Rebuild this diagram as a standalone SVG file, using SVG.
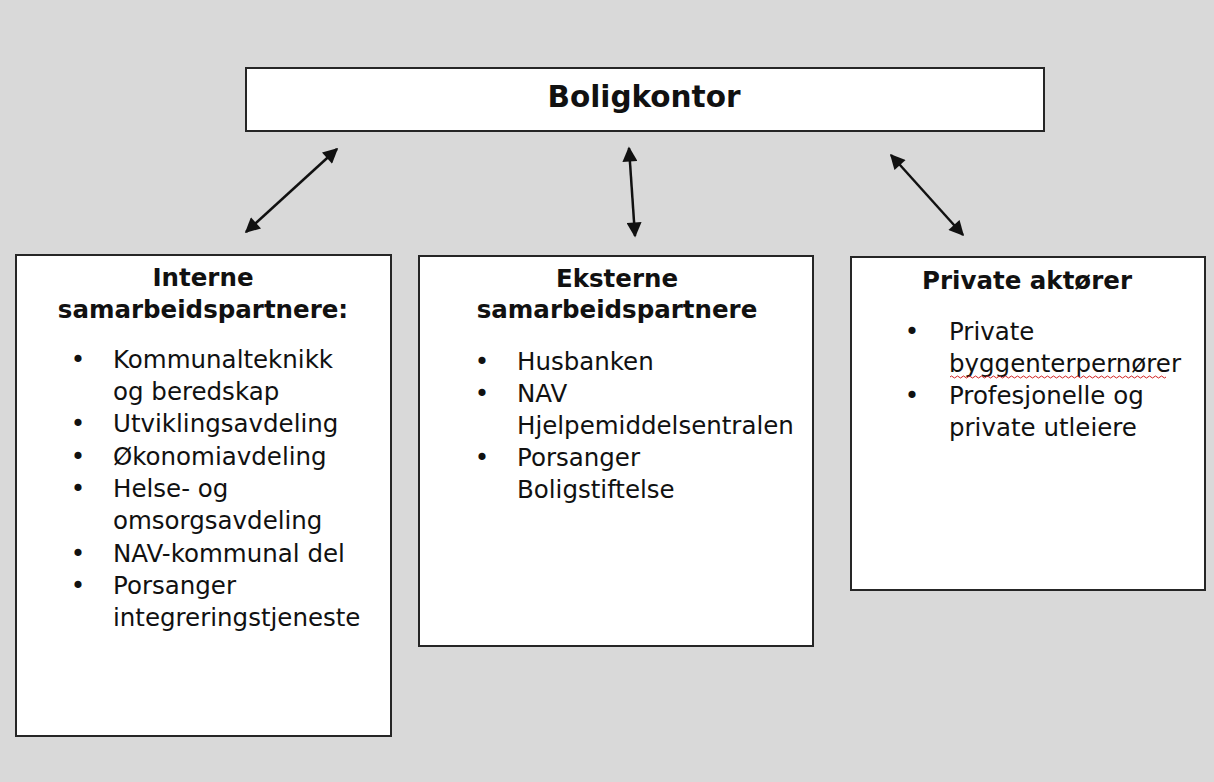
<svg xmlns="http://www.w3.org/2000/svg" width="1214" height="782" viewBox="0 0 1214 782">
<style>
.box{fill:#fff;stroke:#262626;stroke-width:2}
.t{font-family:"DejaVu Sans","Verdana",sans-serif;font-size:24.5px;fill:#111}
.b{font-weight:bold;text-anchor:middle}
.big{font-size:29.5px}
.bul{text-anchor:middle}
.arr{stroke:#111;stroke-width:2.5;fill:none;marker-start:url(#ah);marker-end:url(#ah)}
</style>
<defs>
<marker id="ah" viewBox="0 0 10 10" refX="9" refY="5" markerWidth="6.5" markerHeight="6" orient="auto-start-reverse" markerUnits="strokeWidth">
<path d="M0,0 L10,5 L0,10 Z" fill="#111"/>
</marker>
</defs>
<rect x="0" y="0" width="1214" height="782" fill="#d9d9d9"/>
<g id="connectors">
<line class="arr" x1="246" y1="232" x2="337" y2="149"/>
<line class="arr" x1="629" y1="148" x2="635" y2="236"/>
<line class="arr" x1="891" y1="155" x2="963" y2="235"/>
</g>
<g id="boligkontor">
<rect class="box" x="246" y="68" width="798" height="63"/>
<text class="t b big" x="644" y="107">Boligkontor</text>
</g>
<g id="interne">
<rect class="box" x="16" y="255" width="375" height="481"/>
<text class="t b" x="203" y="286">Interne</text>
<text class="t b" x="203" y="318">samarbeidspartnere:</text>
<text class="t bul" x="78" y="368">•</text>
<text class="t" x="113" y="368">Kommunalteknikk</text>
<text class="t" x="113" y="400">og beredskap</text>
<text class="t bul" x="78" y="432">•</text>
<text class="t" x="113" y="432">Utviklingsavdeling</text>
<text class="t bul" x="78" y="465">•</text>
<text class="t" x="113" y="465">Økonomiavdeling</text>
<text class="t bul" x="78" y="497">•</text>
<text class="t" x="113" y="497">Helse- og</text>
<text class="t" x="113" y="529">omsorgsavdeling</text>
<text class="t bul" x="78" y="562">•</text>
<text class="t" x="113" y="562">NAV-kommunal del</text>
<text class="t bul" x="78" y="594">•</text>
<text class="t" x="113" y="594">Porsanger</text>
<text class="t" x="113" y="626">integreringstjeneste</text>
</g>
<g id="eksterne">
<rect class="box" x="419" y="256" width="394" height="390"/>
<text class="t b" x="617" y="287">Eksterne</text>
<text class="t b" x="617" y="318">samarbeidspartnere</text>
<text class="t bul" x="482" y="370">•</text>
<text class="t" x="517" y="370">Husbanken</text>
<text class="t bul" x="482" y="402">•</text>
<text class="t" x="517" y="402">NAV</text>
<text class="t" x="517" y="434">Hjelpemiddelsentralen</text>
<text class="t bul" x="482" y="466">•</text>
<text class="t" x="517" y="466">Porsanger</text>
<text class="t" x="517" y="498">Boligstiftelse</text>
</g>
<g id="private">
<rect class="box" x="851" y="257" width="354" height="333"/>
<text class="t b" x="1027" y="289">Private aktører</text>
<text class="t bul" x="912" y="340">•</text>
<text class="t" x="949" y="340">Private</text>
<text class="t" x="949" y="372">byggenterpernører</text>
<path d="M950,377 q1.5,-2 3,0 t3,0 t3,0 t3,0 t3,0 t3,0 t3,0 t3,0 t3,0 t3,0 t3,0 t3,0 t3,0 t3,0 t3,0 t3,0 t3,0 t3,0 t3,0 t3,0 t3,0 t3,0 t3,0 t3,0 t3,0 t3,0 t3,0 t3,0 t3,0 t3,0 t3,0 t3,0 t3,0 t3,0 t3,0 t3,0 t3,0 t3,0 t3,0 t3,0 t3,0 t3,0 t3,0 t3,0 t3,0 t3,0 t3,0 t3,0 t3,0 t3,0 t3,0 t3,0 t3,0 t3,0 t3,0 t3,0 t3,0 t3,0 t3,0 t3,0 t3,0 t3,0 t3,0 t3,0 t3,0 t3,0 t3,0 t3,0 t3,0 t3,0 t3,0 t3,0" fill="none" stroke="#d02020" stroke-width="1"/>
<text class="t bul" x="912" y="404">•</text>
<text class="t" x="949" y="404">Profesjonelle og</text>
<text class="t" x="949" y="436">private utleiere</text>
</g>
</svg>
